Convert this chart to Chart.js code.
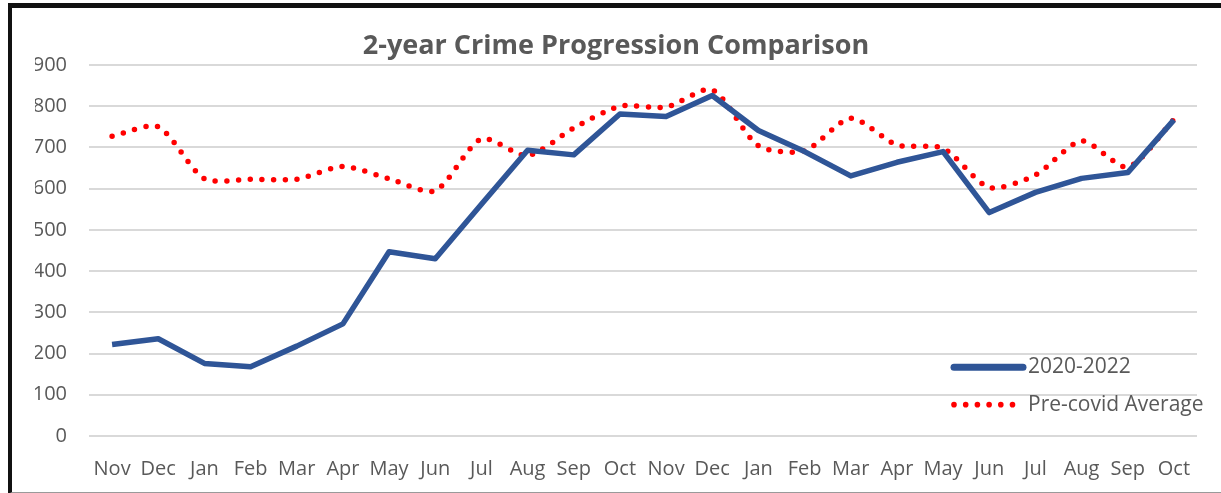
<!DOCTYPE html>
<html>
<head>
<meta charset="utf-8">
<script src="https://cdn.jsdelivr.net/npm/chart.js@4/dist/chart.umd.min.js"></script>
<style>
  html, body { margin: 0; padding: 0; background: #fff; }
  #wrap { position: relative; width: 1221px; height: 493px; overflow: hidden; }
  #crimeChart { position: absolute; left: 0; top: 0; }
  #frame {
    position: absolute; left: 8px; top: 3px; width: 1230px; height: 484px;
    border-top: 5px solid #111; border-left: 4px solid #111; border-bottom: 2px solid #9a9a9a;
    pointer-events: none;
  }
</style>
</head>
<body>
<div id="wrap">
  <canvas id="crimeChart" width="1221" height="493"></canvas>
  <div id="frame"></div>
</div>
<script>
const months = ['Nov', 'Dec', 'Jan', 'Feb', 'Mar', 'Apr', 'May', 'Jun', 'Jul', 'Aug', 'Sep', 'Oct',
                'Nov', 'Dec', 'Jan', 'Feb', 'Mar', 'Apr', 'May', 'Jun', 'Jul', 'Aug', 'Sep', 'Oct'];
const covidPeriod = [222, 236, 176, 168, 218, 272, 447, 430, 562, 693, 682, 781,
                     775, 826, 741, 690, 631, 664, 690, 542, 591, 625, 639, 767];
const preCovidAvg = [727, 750, 624, 623, 623, 654, 624, 595, 721, 680, 747, 800,
                     798, 840, 704, 692, 771, 706, 698, 603, 633, 716, 652, 768];
const yTicks = [0, 100, 200, 300, 400, 500, 600, 700, 800, 900];

const textGrey = '#595959';
const blue = '#2F5597';
const red = '#FF0000';
const fontFamily = '"Open Sans", "Liberation Sans", sans-serif';

// legend sits inside the plot, bottom right, like the Excel original
const insideLegend = {
  id: 'insideLegend',
  afterDraw(chart) {
    const ctx = chart.ctx;
    const area = chart.chartArea;
    const y = chart.scales.y;
    const x0 = area.right - 247;
    const row1 = y.getPixelForValue(167);
    const row2 = y.getPixelForValue(76);
    ctx.save();
    ctx.strokeStyle = blue;
    ctx.lineWidth = 7;
    ctx.lineCap = 'round';
    ctx.beginPath();
    ctx.moveTo(x0 + 4, row1);
    ctx.lineTo(x0 + 73, row1);
    ctx.stroke();
    ctx.fillStyle = red;
    for (let i = 0; i < 6; i++) {
      ctx.beginPath();
      ctx.arc(x0 + 4 + i * 11.7, row2, 2.8, 0, Math.PI * 2);
      ctx.fill();
    }
    ctx.fillStyle = textGrey;
    ctx.font = '21px ' + fontFamily;
    ctx.textBaseline = 'middle';
    ctx.fillText('2020-2022', x0 + 78, row1);
    ctx.fillText('Pre-covid Average', x0 + 78, row2);
    ctx.restore();
  }
};

const ctx = document.getElementById('crimeChart').getContext('2d');
new Chart(ctx, {
  type: 'line',
  data: {
    labels: months,
    datasets: [{
      label: '2020-2022',
      data: covidPeriod,
      borderColor: blue,
      borderWidth: 5.5,
      borderJoinStyle: 'round',
      pointRadius: 0,
      tension: 0
    }, {
      label: 'Pre-covid Average',
      data: preCovidAvg,
      borderColor: red,
      borderWidth: 5.5,
      borderCapStyle: 'round',
      borderDash: [0, 11.7],
      pointRadius: 0,
      tension: 0.25
    }]
  },
  options: {
    responsive: false,
    animation: false,
    // left padding keeps the title centred where Excel put it
    layout: { padding: { left: 35, right: 24, top: 0, bottom: 0 } },
    plugins: {
      legend: { display: false },
      tooltip: { enabled: false },
      title: {
        display: true,
        text: '2-year Crime Progression Comparison',
        color: textGrey,
        font: { family: fontFamily, size: 27, weight: 'bold', lineHeight: 1.2 },
        padding: { top: 30, bottom: 2.6 }
      }
    },
    scales: {
      x: {
        offset: true,
        grid: { display: false },
        border: { display: false },
        ticks: { color: textGrey, padding: 13, maxRotation: 0, autoSkip: false,
                 font: { family: fontFamily, size: 20 } },
        afterFit(scale) { scale.height = 57; }
      },
      y: {
        min: 0,
        max: 900,
        afterBuildTicks(scale) { scale.ticks = yTicks.map(v => ({ value: v })); },
        grid: { color: '#D9D9D9', lineWidth: 2, drawTicks: false },
        border: { display: false },
        ticks: { color: textGrey, padding: 22, font: { family: fontFamily, size: 20 } },
        afterFit(scale) { scale.width = 54; }
      }
    }
  },
  plugins: [insideLegend]
});
</script>
</body>
</html>
